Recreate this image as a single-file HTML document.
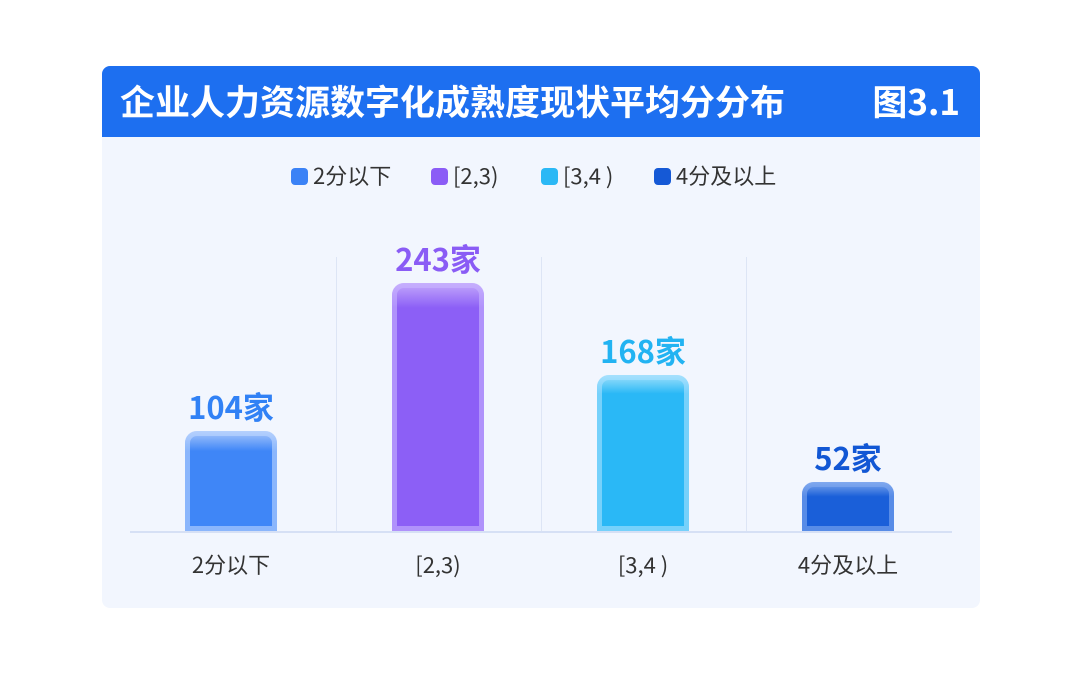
<!DOCTYPE html><html><head><meta charset="utf-8"><style>
body{margin:0;width:1080px;height:673px;background:#fff;position:relative;overflow:hidden;font-family:"Noto Sans CJK SC","Liberation Sans",sans-serif}
.card{position:absolute;left:102px;top:66px;width:878px;height:542px;background:#f2f6fe;border-radius:8px;overflow:hidden}
.hd{position:absolute;left:0;top:0;width:878px;height:71px;background:#1d6ff0;color:#fff;font-weight:bold;font-size:35px;line-height:1}
.a{position:absolute}
.bar{position:absolute;width:92px;border-radius:12px 12px 0 0}
.v{position:absolute;width:160px;text-align:center;font-weight:bold;font-size:31px;line-height:1}
.x{position:absolute;width:160px;text-align:center;font-size:22px;color:#333;top:553px;line-height:1}
.lg{position:absolute;top:164px;font-size:22px;color:#333;line-height:1}
.lg i{display:inline-block;width:17px;height:17px;border-radius:4px;vertical-align:-1px;margin-right:5px}
.dv{position:absolute;top:257px;width:1px;height:274px;background:#dde5f5}
</style></head><body>
<div class="card"><div class="hd"><span class="a" style="left:18px;top:17px">企业人力资源数字化成熟度现状平均分分布</span><span class="a" style="right:20px;top:17px">图3.1</span></div></div>
<div class="lg" style="left:291px"><i style="background:#3b82f6"></i>2分以下</div>
<div class="lg" style="left:431px"><i style="background:#8b5cf6"></i>[2,3)</div>
<div class="lg" style="left:541px"><i style="background:#2bb8f5"></i>[3,4 )</div>
<div class="lg" style="left:654px"><i style="background:#1559d6"></i>4分及以上</div>
<div class="dv" style="left:336px"></div><div class="dv" style="left:541px"></div><div class="dv" style="left:746px"></div>
<div class="a" style="left:130px;top:531px;width:822px;height:2px;background:#d6e0f5"></div>
<div class="bar" style="left:185px;top:431px;height:100px;background:linear-gradient(#a9c7fb,#3f86f7 20%,#3f86f7);box-shadow:inset 0 0 0 5px rgba(190,215,255,.6)"></div>
<div class="bar" style="left:392px;top:283px;height:248px;background:linear-gradient(#c3a8fb,#8c5ff6 10%,#8c5ff6);box-shadow:inset 0 0 0 5px rgba(200,180,255,.6)"></div>
<div class="bar" style="left:597px;top:375px;height:156px;background:linear-gradient(#9fe0fb,#2ab8f6 12%,#2ab8f6);box-shadow:inset 0 0 0 5px rgba(170,225,255,.6)"></div>
<div class="bar" style="left:802px;top:482px;height:49px;background:linear-gradient(#7fa8ec,#1a5fd9 30%,#1a5fd9);box-shadow:inset 0 0 0 5px rgba(130,170,240,.6)"></div>
<div class="v" style="left:151px;top:390px;color:#3181f5">104家</div>
<div class="v" style="left:358px;top:242px;color:#8a5cf5">243家</div>
<div class="v" style="left:563px;top:334px;color:#22b3f2">168家</div>
<div class="v" style="left:768px;top:441px;color:#1257d4">52家</div>
<div class="x" style="left:151px">2分以下</div>
<div class="x" style="left:358px">[2,3)</div>
<div class="x" style="left:563px">[3,4 )</div>
<div class="x" style="left:768px">4分及以上</div>
</body></html>
